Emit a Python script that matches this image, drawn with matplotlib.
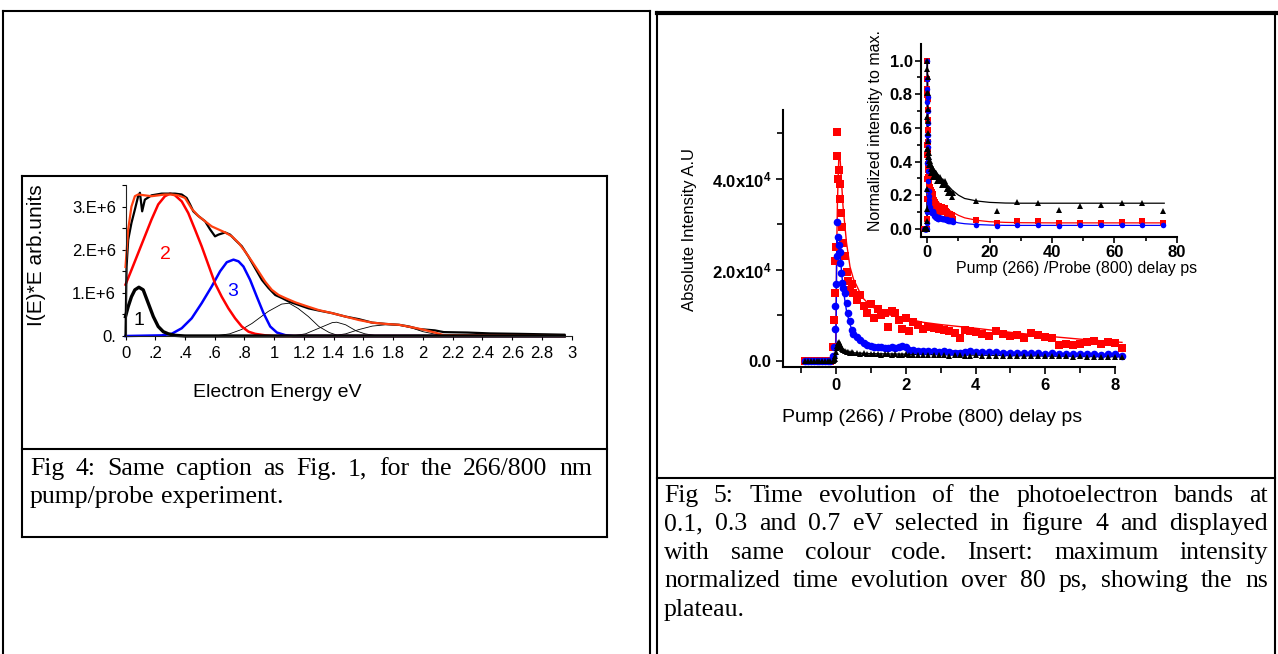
import matplotlib
matplotlib.use("Agg")
import matplotlib.pyplot as plt
from matplotlib.lines import Line2D
import numpy as np

plt.rcParams['font.family'] = ['Liberation Sans', 'DejaVu Sans']
plt.rcParams['mathtext.fontset'] = 'custom'
plt.rcParams['mathtext.rm'] = 'Liberation Sans'
plt.rcParams['mathtext.bf'] = 'Liberation Sans:bold'

# ---------------- Fig 4 data (energy eV, intensity in 1e6 units) ----------------
exp_E = [0, 0.007, 0.018, 0.04, 0.063, 0.085, 0.097, 0.112, 0.13, 0.175, 0.209, 0.243, 0.288,
         0.333, 0.378, 0.411, 0.434, 0.456, 0.49, 0.535, 0.569, 0.602, 0.625, 0.67, 0.703, 0.737,
         0.782, 0.827, 0.872, 0.917, 0.962, 1.007, 1.052, 1.097, 1.164, 1.231, 1.3, 1.389, 1.479,
         1.569, 1.658, 1.748, 1.838, 1.906, 1.973, 2.08, 2.14, 2.3, 2.45, 2.64, 2.8, 2.95]
exp_I = [0, 1.6, 2.23, 2.62, 2.93, 3.24, 3.32, 2.89, 3.16, 3.26, 3.28, 3.3, 3.3,
         3.3, 3.28, 3.2, 3.05, 2.89, 2.78, 2.66, 2.47, 2.31, 2.35, 2.4, 2.35, 2.23,
         2.08, 1.84, 1.57, 1.3, 1.11, 0.95, 0.88, 0.8, 0.72, 0.64, 0.59, 0.53, 0.45,
         0.39, 0.31, 0.28, 0.26, 0.22, 0.16, 0.13, 0.09, 0.08, 0.06, 0.05, 0.04, 0.03]

fit_E = [0, 0.018, 0.04, 0.063, 0.085, 0.13, 0.175, 0.22, 0.265, 0.31, 0.355, 0.4, 0.445, 0.49,
         0.535, 0.58, 0.625, 0.67, 0.715, 0.76, 0.804, 0.85, 0.894, 0.939, 0.984, 1.03, 1.074,
         1.142, 1.21, 1.3, 1.389, 1.479, 1.569, 1.658, 1.748, 1.838, 1.928, 2.0, 2.08, 2.14, 2.95]
fit_I = [1.6, 2.47, 3.0, 3.24, 3.28, 3.26, 3.24, 3.26, 3.28, 3.28, 3.26, 3.2, 2.95, 2.78,
         2.66, 2.54, 2.47, 2.4, 2.31, 2.16, 1.96, 1.73, 1.5, 1.26, 1.07, 0.95, 0.88,
         0.78, 0.7, 0.6, 0.53, 0.45, 0.37, 0.31, 0.28, 0.26, 0.2, 0.15, 0.08, 0.02, 0.0]

c1_E = [0, 0.018, 0.04, 0.063, 0.09, 0.119, 0.153, 0.187, 0.22, 0.254, 0.288, 0.333, 0.4, 2.95]
c1_I = [0.45, 0.68, 0.91, 1.07, 1.13, 1.07, 0.76, 0.45, 0.22, 0.1, 0.05, 0.015, 0, 0]

c2_E = [0, 0.04, 0.085, 0.13, 0.175, 0.22, 0.265, 0.3, 0.333, 0.378, 0.422, 0.467, 0.512,
        0.557, 0.602, 0.647, 0.692, 0.737, 0.782, 0.827, 0.872, 0.94, 1.0, 2.95]
c2_I = [1.19, 1.53, 1.92, 2.31, 2.7, 3.05, 3.24, 3.3, 3.26, 3.12, 2.85, 2.47, 2.08,
        1.65, 1.22, 0.91, 0.64, 0.41, 0.22, 0.1, 0.05, 0.015, 0, 0]

c3_E = [0, 0.243, 0.31, 0.378, 0.445, 0.512, 0.58, 0.636, 0.681, 0.726, 0.76, 0.793, 0.838,
        0.883, 0.928, 0.973, 1.018, 1.074, 1.13, 2.95]
c3_I = [0, 0.015, 0.05, 0.18, 0.41, 0.76, 1.15, 1.5, 1.71, 1.77, 1.73, 1.61, 1.3,
        0.91, 0.53, 0.22, 0.08, 0.02, 0, 0]

# thin extra bands
c4_E = [0.6, 0.7, 0.78, 0.85, 0.96, 1.05, 1.1, 1.16, 1.23, 1.3, 1.37, 1.44]
c4_I = [0, 0.05, 0.15, 0.29, 0.57, 0.74, 0.76, 0.64, 0.45, 0.22, 0.08, 0]
c5_E = [1.12, 1.21, 1.3, 1.39, 1.42, 1.48, 1.55, 1.61, 1.7]
c5_I = [0, 0.05, 0.18, 0.31, 0.32, 0.26, 0.12, 0.05, 0]
c6_E = [1.38, 1.48, 1.57, 1.66, 1.75, 1.84, 1.93, 2.0, 2.1, 2.2]
c6_I = [0, 0.05, 0.15, 0.23, 0.26, 0.25, 0.18, 0.1, 0.03, 0]

e_ticks = [0, 0.2, 0.4, 0.6, 0.8, 1, 1.2, 1.4, 1.6, 1.8, 2, 2.2, 2.4, 2.6, 2.8, 3]
e_ticklabels = ['0', '.2', '.4', '.6', '.8', '1', '1.2', '1.4', '1.6', '1.8', '2',
                '2.2', '2.4', '2.6', '2.8', '3']
i_ticks = [0, 1e6, 2e6, 3e6]
i_ticklabels = ['0.', '1.E+6', '2.E+6', '3.E+6']

# ---------------- Fig 5 data (delay ps, intensity in 1e4 units) ----------------
t_main = [-0.88, -0.8, -0.72, -0.64, -0.56, -0.48, -0.4, -0.32, -0.24, -0.16,
          -0.1, -0.07, -0.04, -0.02, 0.0, 0.02, 0.04, 0.06, 0.08, 0.1,
          0.12, 0.15, 0.18, 0.21, 0.25, 0.3, 0.35, 0.4, 0.45, 0.5,
          0.6, 0.7, 0.8, 0.9, 1.0, 1.1, 1.2, 1.3, 1.4, 1.5,
          1.6, 1.7, 1.8, 1.9, 2.0, 2.1, 2.2, 2.35, 2.5, 2.65,
          2.8, 2.95, 3.1, 3.25, 3.4, 3.55, 3.7, 3.85, 4.0, 4.2,
          4.4, 4.6, 4.8, 5.0, 5.2, 5.4, 5.6, 5.8, 6.0, 6.2,
          6.4, 6.6, 6.8, 7.0, 7.2, 7.4, 7.6, 7.8, 8.0, 8.2]
red_main = [0, 0, 0, 0, 0, 0, 0, 0, 0, 0,
            0.3, 0.9, 1.5, 2.2, 2.5, 5.04, 4.5, 4.0, 4.2, 3.9,
            3.55, 3.25, 2.95, 2.6, 2.3, 1.95, 1.75, 1.55, 1.7, 1.5,
            1.35, 1.45, 1.2, 1.05, 1.25, 0.95, 1.15, 1.0, 1.05, 0.75,
            1.1, 1.05, 0.9, 0.7, 0.95, 0.65, 0.85, 0.8, 0.7, 0.75,
            0.72, 0.7, 0.68, 0.65, 0.62, 0.5, 0.68, 0.66, 0.64, 0.6,
            0.55, 0.65, 0.6, 0.55, 0.57, 0.5, 0.62, 0.58, 0.52, 0.5,
            0.35, 0.38, 0.35, 0.38, 0.42, 0.45, 0.38, 0.42, 0.4, 0.28]
blue_main = [0, 0, 0, 0, 0, 0, 0, 0, 0, 0,
             0.1, 0.3, 0.7, 1.2, 1.7, 2.3, 3.06, 2.73, 2.55, 2.4,
             2.15, 1.93, 1.71, 1.6, 1.49, 1.27, 1.05, 0.87, 0.68, 0.6,
             0.53, 0.46, 0.4, 0.35, 0.33, 0.31, 0.3, 0.3, 0.29, 0.28,
             0.3, 0.29, 0.3, 0.32, 0.3, 0.25, 0.24, 0.23, 0.22, 0.23,
             0.22, 0.2, 0.22, 0.2, 0.18, 0.17, 0.2, 0.22, 0.2, 0.2,
             0.19, 0.19, 0.18, 0.18, 0.18, 0.17, 0.17, 0.17, 0.16, 0.17,
             0.16, 0.15, 0.16, 0.15, 0.16, 0.15, 0.14, 0.15, 0.16, 0.12]
black_main = [0, 0, 0, 0, 0, 0, 0, 0, 0, 0,
              0, 0.02, 0.05, 0.1, 0.2, 0.28, 0.34, 0.4, 0.42, 0.38,
              0.34, 0.3, 0.27, 0.24, 0.22, 0.2, 0.19, 0.18, 0.19, 0.17,
              0.18, 0.16, 0.17, 0.16, 0.16, 0.15, 0.16, 0.14, 0.15, 0.15,
              0.14, 0.15, 0.14, 0.13, 0.15, 0.14, 0.13, 0.14, 0.14, 0.13,
              0.14, 0.13, 0.13, 0.12, 0.13, 0.13, 0.12, 0.12, 0.13, 0.12,
              0.12, 0.12, 0.11, 0.12, 0.11, 0.11, 0.11, 0.12, 0.11, 0.1,
              0.1, 0.1, 0.09, 0.1, 0.09, 0.09, 0.09, 0.09, 0.08, 0.09]

t_fit = [-0.9, -0.02, 0.0, 0.02, 0.04, 0.08, 0.12, 0.2, 0.3, 0.4, 0.5, 0.75, 1.0, 1.5,
         2.0, 2.5, 3.0, 4.0, 5.0, 6.0, 7.0, 8.0, 8.2]
red_fit = [0, 0, 1.0, 2.5, 3.5, 4.5, 4.4, 3.4, 2.6, 2.07, 1.8, 1.4, 1.2, 1.02,
           0.93, 0.85, 0.8, 0.72, 0.63, 0.55, 0.48, 0.42, 0.41]
blue_fit = [0, 0, 0.5, 2.66, 2.6, 2.45, 2.3, 1.6, 1.1, 0.8, 0.6, 0.42, 0.35, 0.3,
            0.27, 0.25, 0.23, 0.21, 0.19, 0.17, 0.155, 0.14, 0.14]
black_fit = [0, 0, 0.1, 0.3, 0.36, 0.38, 0.36, 0.26, 0.21, 0.19, 0.18, 0.17, 0.16, 0.155,
             0.15, 0.145, 0.14, 0.13, 0.12, 0.11, 0.1, 0.095, 0.093]

# inset: long-delay points, normalized to maximum
t_long = [15.5, 22.3, 28.9, 35.6, 42.3, 49.0, 55.7, 62.3, 69.0, 75.7]
black_long = [0.163, 0.107, 0.159, 0.153, 0.111, 0.133, 0.143, 0.153, 0.153, 0.107]
red_long = [0.05, 0.037, 0.045, 0.045, 0.035, 0.037, 0.037, 0.04, 0.045, 0.035]
blue_long = [0.025, 0.018, 0.02, 0.02, 0.018, 0.02, 0.02, 0.02, 0.02, 0.02]

t_ifit = [-2, -0.05, 0.0, 0.05, 0.3, 1, 2, 4, 6, 8, 10, 12, 16, 20, 25, 30, 40, 76]
black_ifit = [0, 0, 0.5, 1.0, 0.48, 0.4, 0.36, 0.31, 0.27, 0.23, 0.2, 0.18, 0.165, 0.157,
              0.153, 0.152, 0.152, 0.152]
red_ifit = [0, 0, 0.5, 1.0, 0.45, 0.24, 0.19, 0.15, 0.12, 0.1, 0.08, 0.065, 0.05, 0.042,
            0.038, 0.036, 0.035, 0.035]
blue_ifit = [0, 0, 0.5, 1.0, 0.3, 0.12, 0.09, 0.07, 0.055, 0.045, 0.035, 0.03, 0.025, 0.022,
             0.02, 0.02, 0.02, 0.02]

cap4 = ["Fig 4: Same caption as Fig. 1,  for the 266/800 nm",
        "pump/probe experiment."]
cap5 = ["Fig 5: Time evolution of the photoelectron bands at",
        "0.1, 0.3 and 0.7 eV selected in figure 4 and displayed",
        "with same colour code. Insert: maximum intensity",
        "normalized time evolution over 80 ps, showing the ns",
        "plateau."]

# ---------------- layout helpers (pixel coords of a 1278x654 page) ----------------
W, H = 1278, 654
fig = plt.figure(figsize=(W / 100, H / 100), dpi=100)
fig.patch.set_facecolor('white')


def fx(x):
    return x / W


def fy(y):
    return 1 - y / H


def px_axes(x0, y0, x1, y1):
    # rectangle given as left, top, right, bottom in pixels
    return fig.add_axes([fx(x0), fy(y1), (x1 - x0) / W, (y1 - y0) / H])


def line(x0, y0, x1, y1, lw=1.5):
    fig.add_artist(Line2D([fx(x0), fx(x1)], [fy(y0), fy(y1)], transform=fig.transFigure,
                          color='black', lw=lw, solid_capstyle='projecting'))


# table / box borders
line(3, 11, 650, 11, 1.5)
line(657, 12.5, 1276, 12.5, 3.0)
line(3, 11, 3, 654, 1.5)
line(650, 11, 650, 654, 1.5)
line(657, 12, 657, 654, 1.5)
line(1275, 12, 1275, 654, 1.5)
line(657, 478, 1275, 478, 1.5)
line(22, 176, 607, 176, 1.5)
line(22, 537, 607, 537, 1.5)
line(22, 176, 22, 537, 1.5)
line(607, 176, 607, 537, 1.5)
line(22, 449, 607, 449, 1.5)

# ---------------- Fig 4 ----------------
ax1 = px_axes(125.5, 185, 571.7, 336)
ax1.set_xlim(0, 3)
ax1.set_ylim(0, 3.5e6)
sc = 1e6
for xs, ys in [(c4_E, c4_I), (c5_E, c5_I), (c6_E, c6_I)]:
    ax1.plot(xs, np.array(ys) * sc, color='black', lw=0.6, clip_on=False)
ax1.plot(c3_E, np.array(c3_I) * sc, color='#0000ff', lw=1.8, clip_on=False)
ax1.plot(c2_E, np.array(c2_I) * sc, color='#ff0000', lw=1.8, clip_on=False)
ax1.plot(exp_E, np.array(exp_I) * sc, color='black', lw=1.6, clip_on=False)
ax1.plot(fit_E, np.array(fit_I) * sc, color='#ff4010', lw=1.6, clip_on=False)
ax1.plot(c1_E, np.array(c1_I) * sc, color='black', lw=2.4, clip_on=False)
ax1.text(0.091, 0.35e6, '1', color='black', fontsize=14, ha='center', va='center')
ax1.text(0.266, 1.88e6, '2', color='#ff0000', fontsize=14, ha='center', va='center')
ax1.text(0.723, 1.02e6, '3', color='#0000ff', fontsize=14, ha='center', va='center')

for s in ['top', 'right']:
    ax1.spines[s].set_visible(False)
for s in ['left', 'bottom']:
    ax1.spines[s].set_linewidth(0.8)
    ax1.spines[s].set_color('#222222')
ax1.set_xticks(e_ticks)
ax1.set_xticklabels(e_ticklabels)
ax1.set_yticks(i_ticks)
ax1.set_yticklabels(i_ticklabels)
ax1.set_yticks([0.5e6, 1.5e6, 2.5e6, 3.5e6], minor=True)
ax1.tick_params(which='both', direction='out', length=3, width=0.8, labelsize=12, pad=4)
ax1.set_xlabel('Electron Energy eV', fontsize=14, va='center')
ax1.xaxis.set_label_coords(0.34, -0.371)
ax1.set_ylabel('I(E)*E arb.units', fontsize=15, va='center')
ax1.yaxis.set_label_coords(-0.2, 0.536)

# ---------------- Fig 5 main ----------------
ax2 = px_axes(782.7, 110, 1115, 367.3)
ax2.set_xlim(-1.53, 8.0)
ax2.set_ylim(-1385, 5.516e4)
s4 = 1e4
ax2.plot(t_fit, np.array(red_fit) * s4, color='#ff0000', lw=1.0, clip_on=False, zorder=2)
ax2.plot(t_fit, np.array(blue_fit) * s4, color='#0000ff', lw=1.0, clip_on=False, zorder=2)
ax2.plot(t_fit, np.array(black_fit) * s4, color='black', lw=1.0, clip_on=False, zorder=2)
ax2.plot(t_main, np.array(red_main) * s4, 's', color='#ff0000', ms=5.5, mew=0, clip_on=False, zorder=3)
ax2.plot(t_main, np.array(blue_main) * s4, 'o', color='#0000ff', ms=5.5, mew=0, clip_on=False, zorder=4)
ax2.plot(t_main, np.array(black_main) * s4, '^', color='black', ms=5, mew=0, clip_on=False, zorder=5)
for s in ['top', 'right']:
    ax2.spines[s].set_visible(False)
for s in ['left', 'bottom']:
    ax2.spines[s].set_linewidth(1.5)
ax2.set_xticks([0, 2, 4, 6, 8])
ax2.set_xticks([-1, 1, 3, 5, 7], minor=True)
ax2.set_yticks([0, 2e4, 4e4])
ax2.set_yticklabels(['0.0', r'$\mathbf{2.0x10^{4}}$', r'$\mathbf{4.0x10^{4}}$'])
ax2.set_yticks([1e4, 3e4, 5e4], minor=True)
ax2.tick_params(which='major', direction='out', length=5, width=1.2, labelsize=12, pad=3)
ax2.tick_params(which='minor', direction='out', length=4, width=1.2)
for lab in ax2.get_xticklabels() + ax2.get_yticklabels():
    lab.set_fontweight('bold')
ax2.set_xlabel('Pump (266) / Probe (800) delay ps', fontsize=14, va='center')
ax2.xaxis.set_label_coords(0.449, -0.197)
ax2.set_ylabel('Absolute Intensity A.U', fontsize=12, va='center')
ax2.yaxis.set_label_coords(-0.279, 0.5375)

# ---------------- Fig 5 inset ----------------
ax3 = px_axes(921, 44, 1176.7, 237)
ax3.set_xlim(-2, 80)
ax3.set_ylim(-0.049, 1.099)
ax3.patch.set_alpha(0)
red_n = np.array(red_main) / max(red_main)
blue_n = np.array(blue_main) / max(blue_main)
black_n = np.array(black_main) / max(black_main)
ax3.plot(t_ifit, red_ifit, color='#ff0000', lw=0.9, zorder=2)
ax3.plot(t_ifit, blue_ifit, color='#0000ff', lw=0.9, zorder=2)
ax3.plot(t_ifit, black_ifit, color='black', lw=0.9, zorder=2)
ax3.plot(t_main, red_n, 's', color='#ff0000', ms=4, mew=0, zorder=3)
ax3.plot(t_long, red_long, 's', color='#ff0000', ms=4, mew=0, zorder=3)
ax3.plot(t_main, blue_n, 'o', color='#0000ff', ms=4, mew=0, zorder=4)
ax3.plot(t_long, blue_long, 'o', color='#0000ff', ms=4, mew=0, zorder=4)
ax3.plot(t_main, black_n, '^', color='black', ms=4.5, mew=0, zorder=5)
ax3.plot(t_long, black_long, '^', color='black', ms=4.5, mew=0, zorder=5)
for s in ['top', 'right']:
    ax3.spines[s].set_visible(False)
for s in ['left', 'bottom']:
    ax3.spines[s].set_linewidth(1.5)
ax3.set_xticks([0, 20, 40, 60, 80])
ax3.set_xticks([10, 30, 50, 70], minor=True)
ax3.set_yticks([0, 0.2, 0.4, 0.6, 0.8, 1.0])
ax3.set_yticks([0.1, 0.3, 0.5, 0.7, 0.9], minor=True)
ax3.yaxis.set_major_formatter(matplotlib.ticker.FormatStrFormatter('%.1f'))
ax3.tick_params(which='major', direction='out', length=4, width=1.2, labelsize=12, pad=2)
ax3.tick_params(which='minor', direction='out', length=3, width=1.2)
for lab in ax3.get_xticklabels() + ax3.get_yticklabels():
    lab.set_fontweight('bold')
ax3.set_xlabel('Pump (266) /Probe (800) delay ps', fontsize=11.5, va='center')
ax3.xaxis.set_label_coords(0.61, -0.161)
ax3.set_ylabel('Normalized intensity to max.', fontsize=11.5, va='center')
ax3.yaxis.set_label_coords(-0.176, 0.554)

# ---------------- captions (justified, Times-like) ----------------
renderer = fig.canvas.get_renderer()
CAP_FS = 18.5


def caption(lines, x0, x1, base0, step):
    for i, ln in enumerate(lines):
        words = ln.split()
        y = base0 + i * step
        texts = [fig.text(0, fy(y), w, fontsize=CAP_FS, family='Liberation Serif',
                          va='baseline', ha='left') for w in words]
        widths = [t.get_window_extent(renderer).width for t in texts]
        last = i == len(lines) - 1
        if last or len(words) == 1:
            gap = CAP_FS * 100 / 72 * 0.25
        else:
            gap = (x1 - x0 - sum(widths)) / (len(words) - 1)
        x = x0
        for t, w in zip(texts, widths):
            t.set_x(fx(x))
            x += w + gap


caption(cap4, 30, 592, 475, 28.3)
caption(cap5, 664, 1268, 502, 28.4)

fig.savefig('out.png', dpi=100, facecolor='white')
